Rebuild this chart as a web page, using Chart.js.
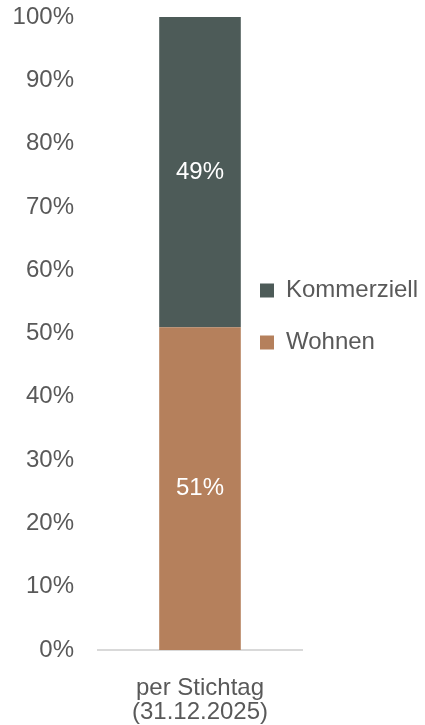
<!DOCTYPE html>
<html>
<head>
<meta charset="utf-8">
<script src="https://cdn.jsdelivr.net/npm/chart.js@4/dist/chart.umd.min.js"></script>
<style>
  html, body { margin: 0; padding: 0; background: #fff; }
  #wrap { width: 425px; height: 725px; position: relative; }
</style>
</head>
<body>
<div id="wrap"><canvas id="stackchart"></canvas></div>
<script>
const categories = [['per Stichtag', '(31.12.2025)']]
const wohnen = [51]
const kommerziell = [49]
const yTicks = [0, 10, 20, 30, 40, 50, 60, 70, 80, 90, 100]

const textColor = '#595959'
const fontFamily = '"Liberation Sans", Arial, sans-serif'
const fontSize = 24

// writes the share into the middle of each stacked segment
const segmentLabels = {
    id: 'segmentLabels',
    afterDatasetsDraw(chart) {
        const c = chart.ctx
        c.save()
        c.fillStyle = '#ffffff'
        c.font = fontSize + 'px ' + fontFamily
        c.textAlign = 'center'
        c.textBaseline = 'middle'
        chart.data.datasets.forEach((ds, i) => {
            chart.getDatasetMeta(i).data.forEach((bar, j) => {
                const mid = (bar.y + bar.base) / 2
                c.fillText(ds.data[j] + '%', bar.x, mid)
            })
        })
        c.restore()
    }
}

// pull the legend a bit into the free space next to the bar
const legendNudge = {
    id: 'legendNudge',
    afterLayout(chart) {
        const lg = chart.legend
        lg.left -= 70
        lg.top -= 46
        lg.bottom -= 46
    }
}

const ctx = document.getElementById('stackchart')
const myChart = new Chart(ctx, {
    type: 'bar',
    data: {
        labels: categories,
        datasets: [{
            label: 'Wohnen',
            data: wohnen,
            backgroundColor: '#b5805c',
            barPercentage: 0.4,
            categoryPercentage: 1
        }, {
            label: 'Kommerziell',
            data: kommerziell,
            backgroundColor: '#4d5b58',
            barPercentage: 0.4,
            categoryPercentage: 1
        }]
    },
    options: {
        responsive: true,
        maintainAspectRatio: false,
        animation: false,
        layout: {
            padding: { left: 13, right: 0, top: 0, bottom: 0 }
        },
        plugins: {
            legend: {
                position: 'right',
                reverse: true,
                maxWidth: 123,
                labels: {
                    boxWidth: 14,
                    boxHeight: 14,
                    padding: 28,
                    color: textColor,
                    font: { family: fontFamily, size: fontSize }
                }
            },
            tooltip: { enabled: false }
        },
        scales: {
            x: {
                stacked: true,
                grid: { display: false },
                border: { display: true, color: '#d9d9d9', width: 2 },
                afterFit: axis => { axis.height = 75 },
                ticks: {
                    color: textColor,
                    padding: 18,
                    font: { family: fontFamily, size: fontSize, lineHeight: 1 }
                }
            },
            y: {
                stacked: true,
                min: 0,
                max: 100,
                grid: { display: false },
                border: { display: false },
                afterFit: axis => {
                    axis.width = 85
                    axis.paddingTop = 17
                },
                afterBuildTicks: axis => {
                    axis.ticks = yTicks.map(v => ({ value: v }))
                },
                ticks: {
                    color: textColor,
                    padding: 16,
                    font: { family: fontFamily, size: fontSize },
                    callback: v => v + '%'
                }
            }
        }
    },
    plugins: [segmentLabels, legendNudge]
});
</script>
</body>
</html>
